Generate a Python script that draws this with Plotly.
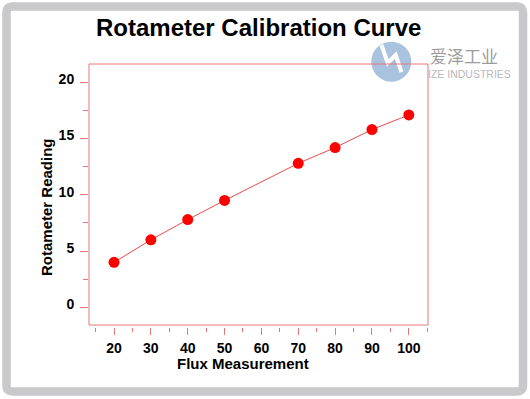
import plotly.graph_objects as go

# ---- data ----
flux = [20, 30, 40, 50, 70, 80, 90, 100]
reading = [4.0, 6.0, 7.8, 9.5, 12.8, 14.2, 15.8, 17.1]
x_tickvals = [20, 30, 40, 50, 60, 70, 80, 90, 100]
y_tickvals = [0, 5, 10, 15, 20]

title_text = "Rotameter Calibration Curve"
x_title = "Flux Measurement"
y_title = "Rotameter Reading"

W, H = 530, 399
ML, MR, MT, MB = 89, 102, 64, 72
PW, PH = W - ML - MR, H - MT - MB

def px(x):
    return (x - ML) / PW

def py(y):
    return (H - MB - y) / PH

FRAME = "#e8777a"
FONT = "Liberation Sans, Arial, Helvetica, sans-serif"

fig = go.Figure()
fig.add_trace(go.Scatter(
    x=flux, y=reading, mode="lines+markers",
    line=dict(color="#f04a4a", width=1),
    marker=dict(color="#ff0000", size=11),
    showlegend=False, hoverinfo="x+y",
))

shapes = []

def rrect(x0, y0, x1, y1, r):
    return (f"M {px(x0+r)},{py(y0)} L {px(x1-r)},{py(y0)} Q {px(x1)},{py(y0)} {px(x1)},{py(y0+r)} "
            f"L {px(x1)},{py(y1-r)} Q {px(x1)},{py(y1)} {px(x1-r)},{py(y1)} "
            f"L {px(x0+r)},{py(y1)} Q {px(x0)},{py(y1)} {px(x0)},{py(y1-r)} "
            f"L {px(x0)},{py(y0+r)} Q {px(x0)},{py(y0)} {px(x0+r)},{py(y0)} Z")

# outer gray rounded frame
shapes.append(dict(type="path", xref="paper", yref="paper",
                   path=rrect(6.5, 6.5, 523, 391.5, 6),
                   line=dict(color="#c9c9cb", width=8.5), layer="below"))
# watermark logo
cx, cy, r = 391.3, 61.7, 20
shapes.append(dict(type="circle", xref="paper", yref="paper",
                   x0=px(cx - r), x1=px(cx + r), y0=py(cy + r), y1=py(cy - r),
                   fillcolor="#a9c2de", line=dict(width=0), layer="above"))
shapes.append(dict(type="path", xref="paper", yref="paper",
                   path=(f"M {px(381.5)},{py(45)} L {px(387.7)},{py(63)} L {px(395.7)},{py(55)} "
                         f"L {px(401.5)},{py(72)}"),
                   line=dict(color="white", width=4), layer="above"))
# plot frame (drawn above logo)
shapes.append(dict(type="rect", xref="x domain", yref="y domain", x0=0, x1=1, y0=0, y1=1,
                   line=dict(color=FRAME, width=1), layer="above"))

annotations = [
    dict(text=f"<b>{title_text}</b>", x=px(258.5), y=py(27), xref="paper", yref="paper",
         showarrow=False, font=dict(family=FONT, size=24, color="black"),
         xanchor="center", yanchor="middle"),
    dict(text=f"<b>{y_title}</b>", x=px(46), y=py(207), xref="paper", yref="paper",
         showarrow=False, textangle=-90, font=dict(family=FONT, size=15, color="black"),
         xanchor="center", yanchor="middle"),
    dict(text=f"<b>{x_title}</b>", x=px(243), y=py(363), xref="paper", yref="paper",
         showarrow=False, font=dict(family=FONT, size=15, color="black"),
         xanchor="center", yanchor="middle"),
    dict(text="爱泽工业", x=px(463.5), y=py(56), xref="paper", yref="paper",
         showarrow=False, font=dict(family="Noto Sans CJK SC", size=17, color="#9c9c9c"),
         xanchor="center", yanchor="middle"),
    dict(text="IZE INDUSTRIES", x=px(469.5), y=py(73.5), xref="paper", yref="paper",
         showarrow=False, font=dict(family=FONT, size=10.5, color="#b8b8b8"),
         xanchor="center", yanchor="middle"),
]

fig.update_layout(
    width=W, height=H,
    margin=dict(l=ML, r=MR, t=MT, b=MB, pad=0),
    paper_bgcolor="white", plot_bgcolor="white",
    shapes=shapes, annotations=annotations,
    font=dict(family=FONT, color="black"),
    xaxis=dict(
        range=[13.21, 105.21], anchor="free", position=0,
        tickmode="array", tickvals=x_tickvals,
        ticks="outside", ticklen=7, tickcolor=FRAME, tickwidth=1,
        minor=dict(tick0=15, dtick=5, ticks="outside", ticklen=4, tickcolor=FRAME, tickwidth=1),
        showline=False, showgrid=False, zeroline=False,
        tickfont=dict(family=FONT, size=14, color="black", weight="bold"),
        ticklabelstandoff=1,
    ),
    yaxis=dict(
        domain=[2 / PH, 1], range=[-1.57, 21.63],
        tickmode="array", tickvals=y_tickvals,
        ticks="outside", ticklen=8, tickcolor=FRAME, tickwidth=1,
        minor=dict(tick0=0, dtick=2.5, ticks="outside", ticklen=5, tickcolor=FRAME, tickwidth=1),
        showline=False, showgrid=False, zeroline=False,
        tickfont=dict(family=FONT, size=14, color="black", weight="bold"),
        ticklabelstandoff=3, ticklabelshift=-3,
    ),
)

fig.write_html("out.html", config={"displayModeBar": False},
               post_script="document.body.style.margin='0';document.body.style.overflow='hidden';")
